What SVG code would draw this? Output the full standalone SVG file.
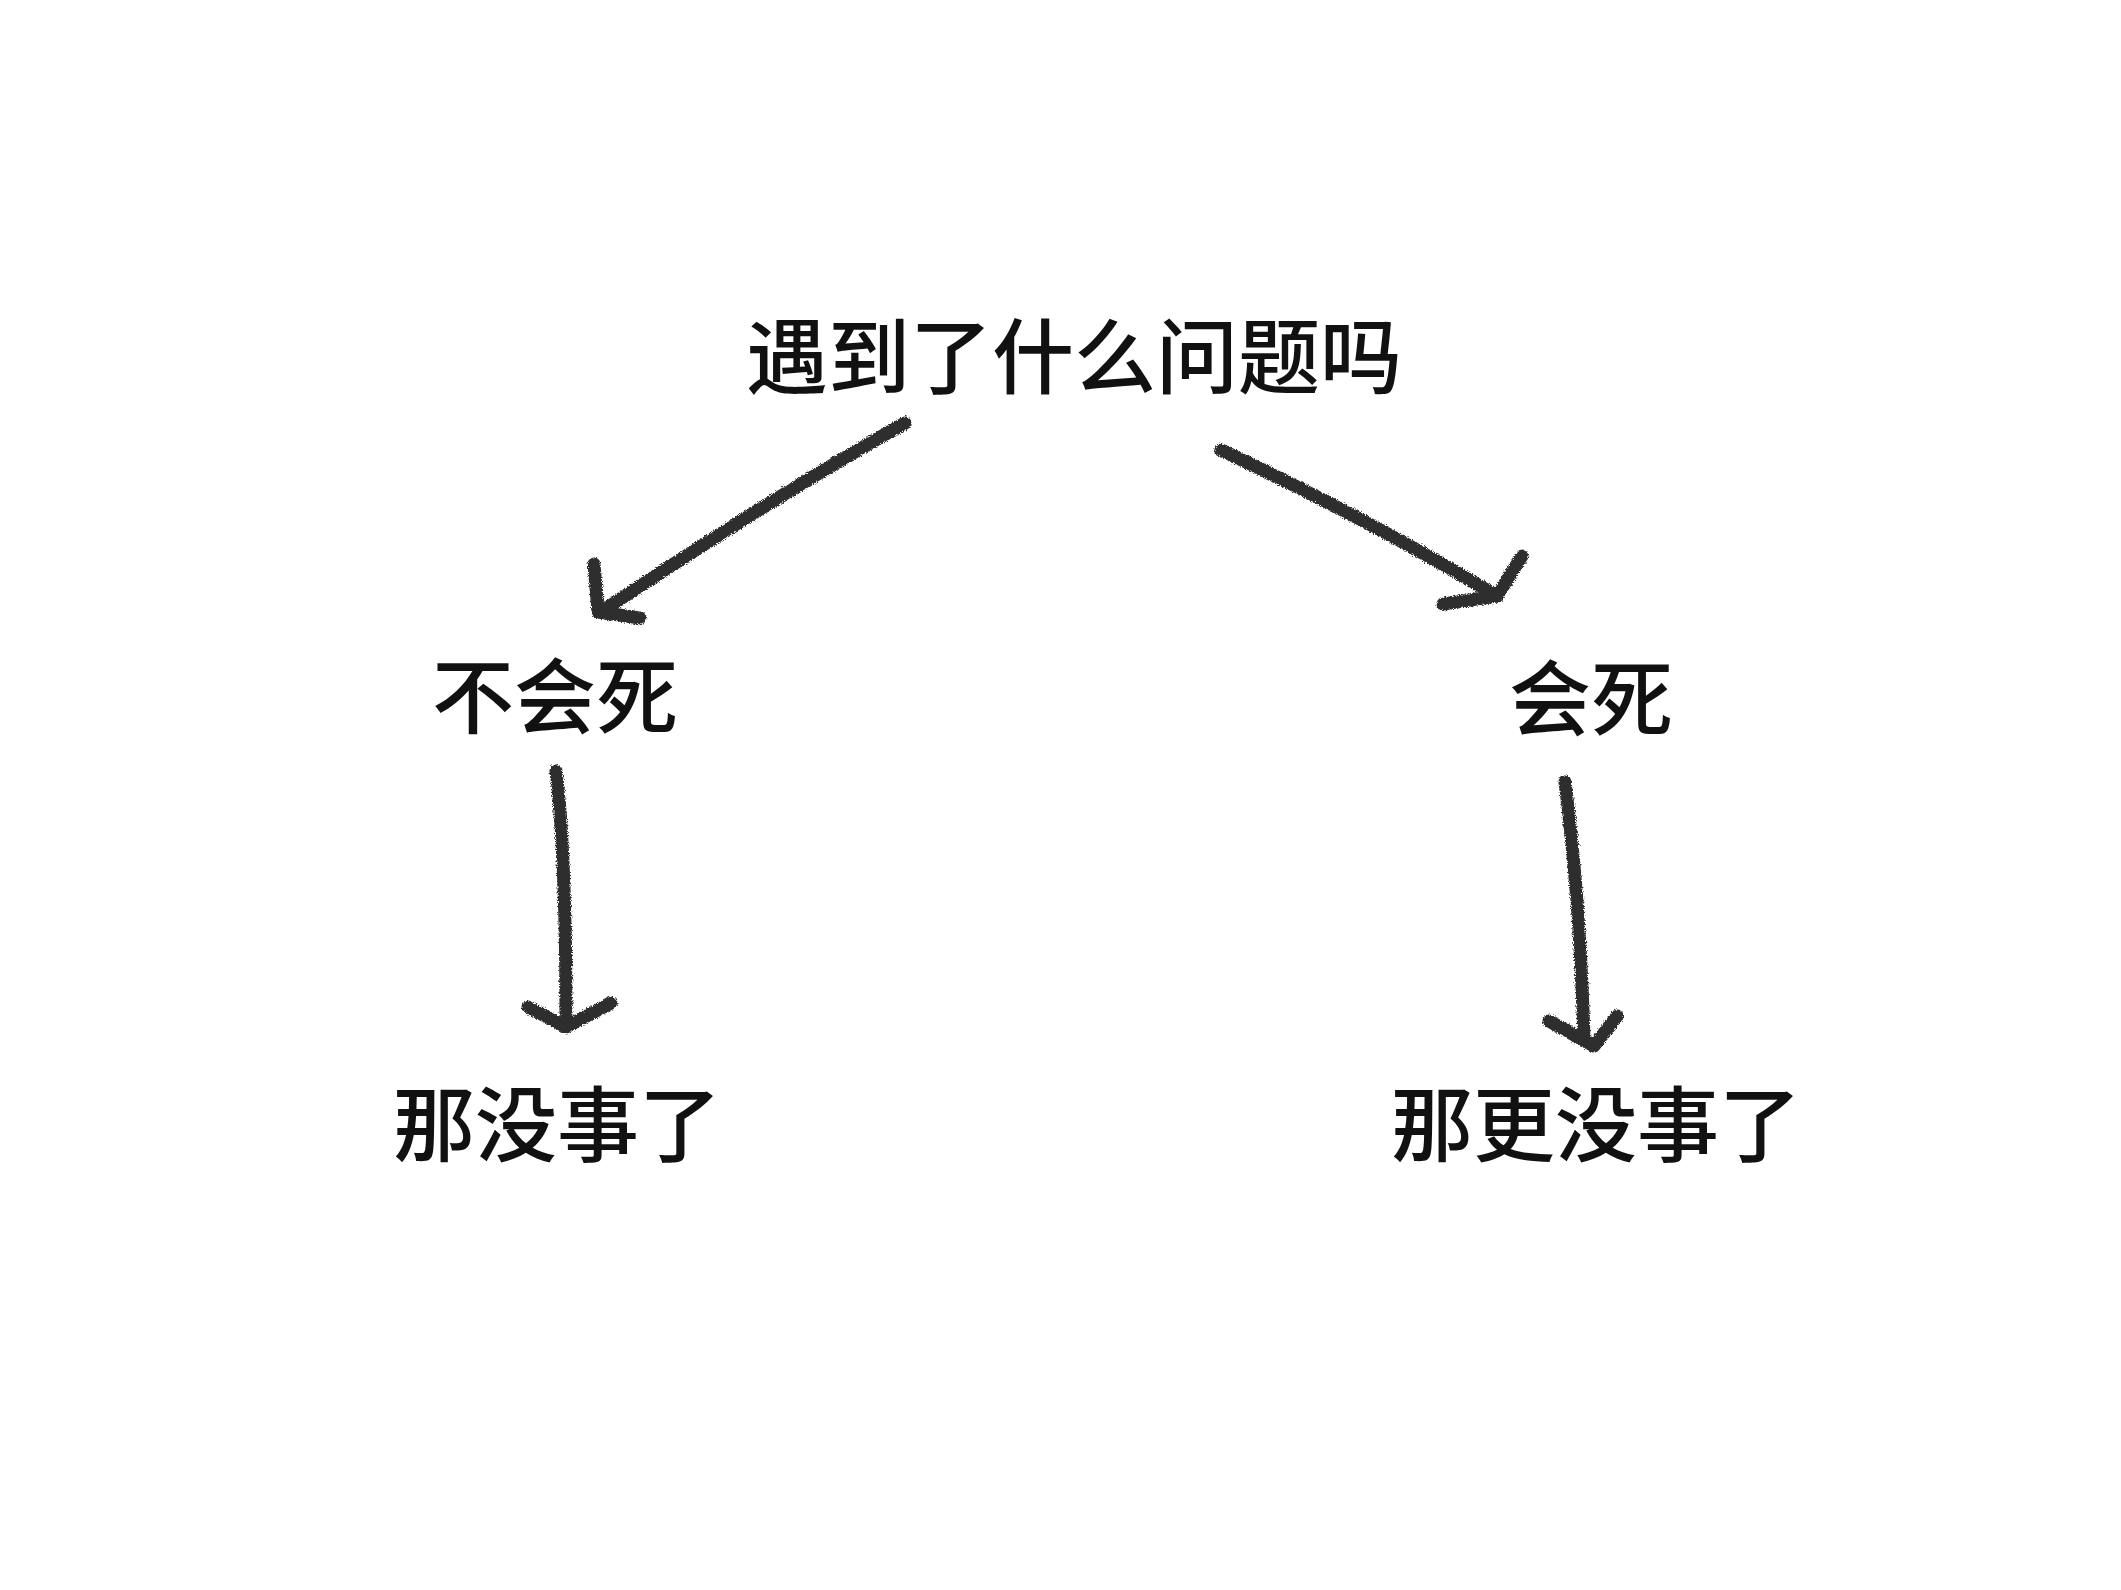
<svg xmlns="http://www.w3.org/2000/svg" width="2121" height="1590" viewBox="0 0 2121 1590">
<style>
.t{font-family:"Noto Sans CJK SC","Noto Sans CJK TC",sans-serif;font-size:82px;font-weight:500;fill:#111;text-anchor:middle}
.a{fill:none;stroke:#2e2e2e;stroke-width:13;stroke-linecap:round;stroke-linejoin:round}
</style>
<defs>
<filter id="rough" x="-10%" y="-10%" width="120%" height="120%">
<feTurbulence type="fractalNoise" baseFrequency="0.9" numOctaves="2" seed="3" result="n"/>
<feDisplacementMap in="SourceGraphic" in2="n" scale="5" xChannelSelector="R" yChannelSelector="G"/>
</filter>
</defs>
<rect width="2121" height="1590" fill="#ffffff"/>
<g id="connectors" filter="url(#rough)">
<g id="c1"><path class="a" d="M905,423 Q760,505 601,612"/><path class="a" d="M594,564 L598,612 L640,618"/></g>
<g id="c2"><path class="a" d="M1221,450 Q1370,520 1497,596"/><path class="a" d="M1522,556 L1497,596 L1443,604"/></g>
<g id="c3"><path class="a" d="M556,771 Q566,850 566,1025"/><path class="a" d="M528,1007 L566,1027 L611,1003"/></g>
<g id="c4"><path class="a" d="M1565,782 Q1580,900 1584,1040"/><path class="a" d="M1549,1021 L1594,1046 L1617,1016"/></g>
</g>
<g id="n-top"><text class="t" x="1074" y="387" font-size="85">遇到了什么问题吗</text></g>
<g id="n-no-die"><text class="t" x="555" y="727">不会死</text></g>
<g id="n-die"><text class="t" x="1591" y="729">会死</text></g>
<g id="n-fine"><text class="t" x="557" y="1155">那没事了</text></g>
<g id="n-finer"><text class="t" x="1596" y="1155" font-size="83">那更没事了</text></g>
</svg>
